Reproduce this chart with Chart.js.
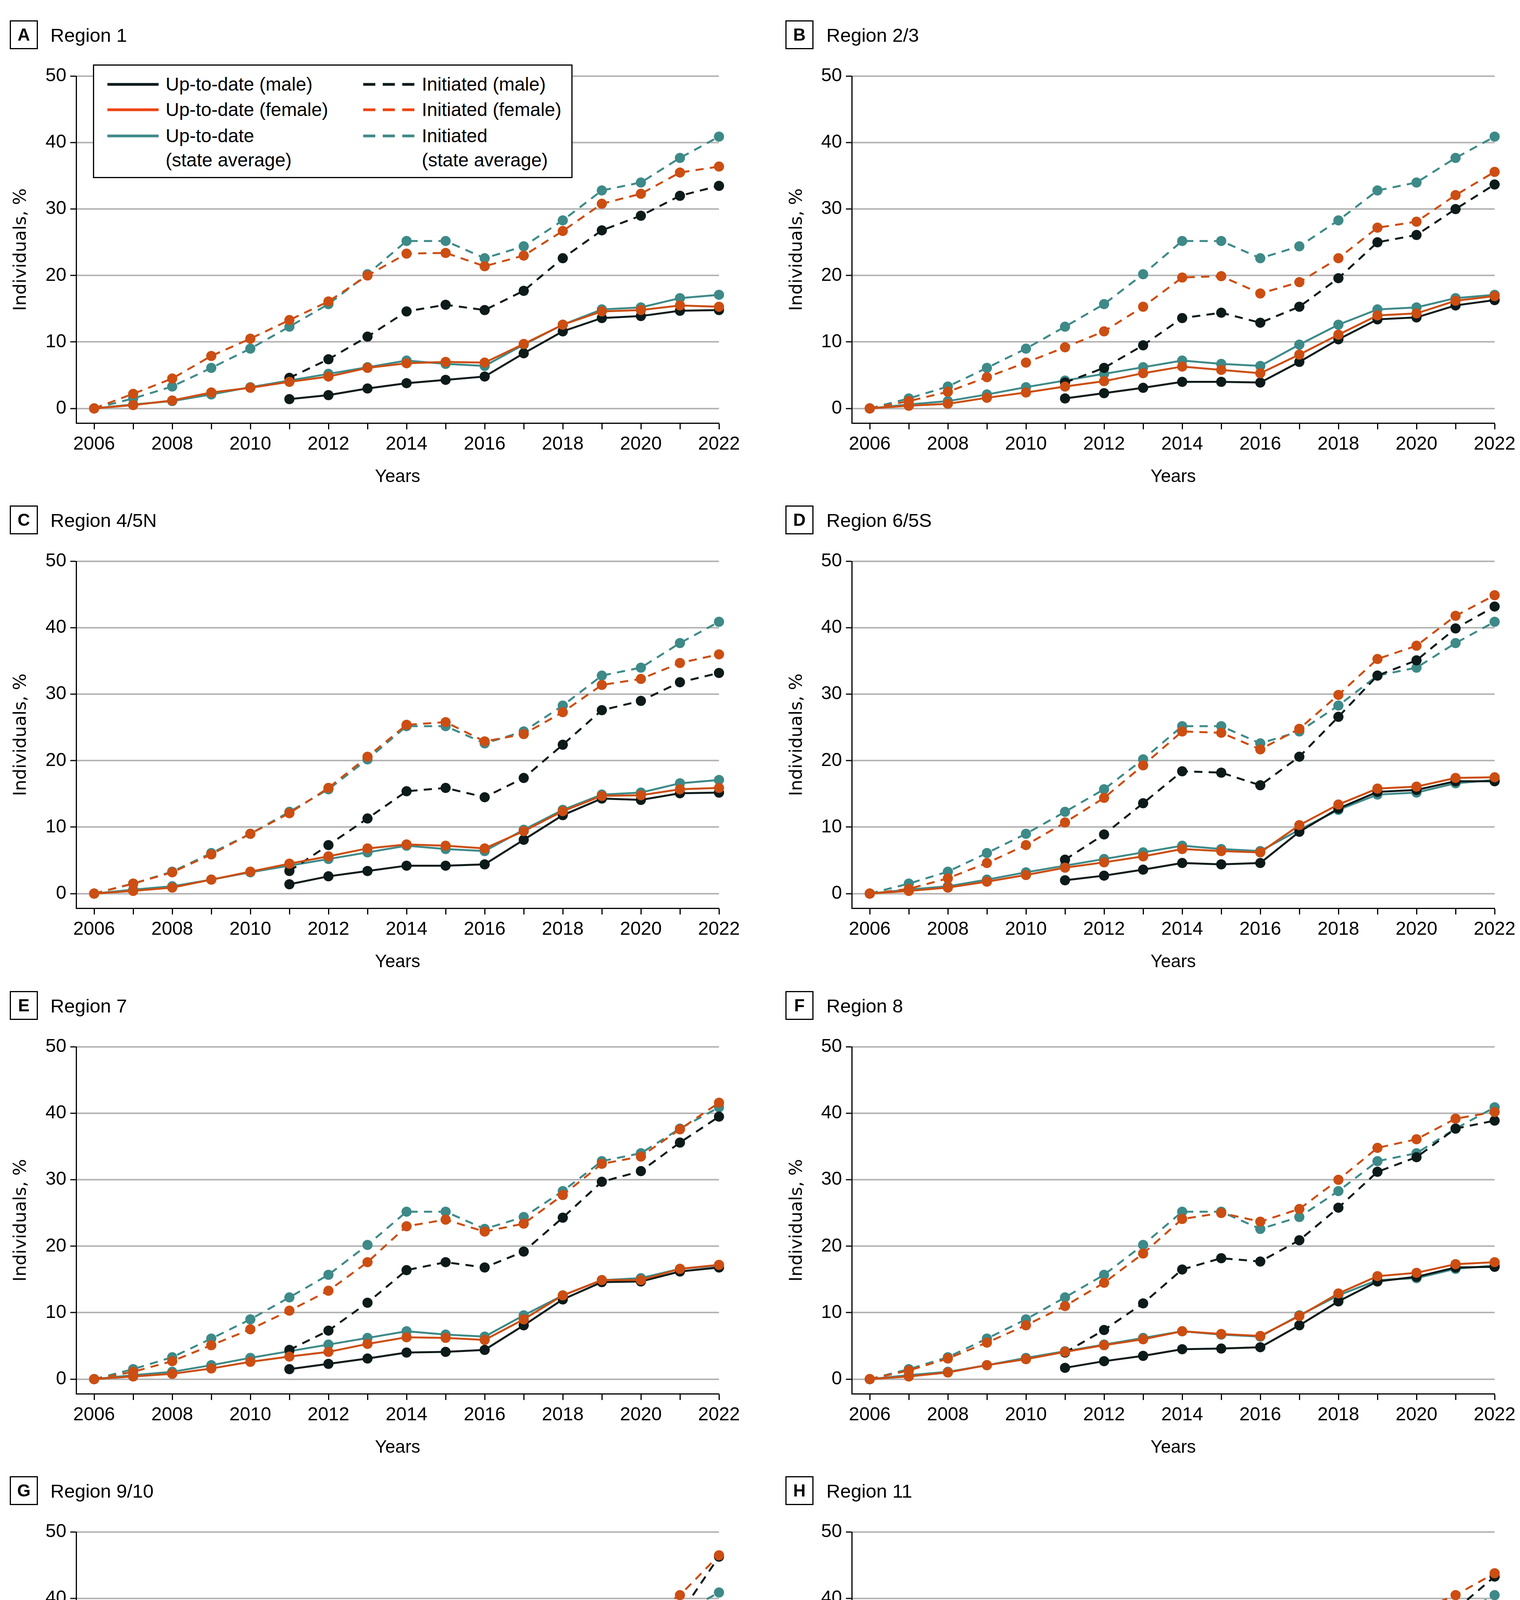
<!DOCTYPE html>
<html lang="en">
<head>
<meta charset="utf-8">
<script src="https://cdn.jsdelivr.net/npm/chart.js@4"></script>
<style>
  body { margin: 0; background: #fff; }
  #page { position: relative; width: 3892px; height: 5000px; background: #fff;
          font-family: "Liberation Sans", Arial, sans-serif; color: #000; }
  .panel { position: absolute; width: 1946px; height: 1244px; }
  .panel canvas { position: absolute; left: 0; top: 0; }
  .tag { position: absolute; top: 52px; width: 72px; height: 74px; border: 3px solid #000;
         box-sizing: border-box; font-weight: bold; font-size: 44px; line-height: 68px; text-align: center; }
  .region { position: absolute; top: 60px; font-size: 49px; line-height: 60px; white-space: nowrap; }
  .legend { position: absolute; left: 238px; top: 165px; width: 1228px; height: 291px;
            border: 3px solid #000; box-sizing: border-box; background: #fff; z-index: 2; }
  .legend svg { position: absolute; }
  .legend .txt { position: absolute; font-size: 48px; line-height: 62px; white-space: nowrap; }
</style>
</head>
<body>
<div id="page"></div>

<script>
  const years = [2006, 2007, 2008, 2009, 2010, 2011, 2012, 2013, 2014, 2015, 2016, 2017, 2018, 2019, 2020, 2021, 2022];
  const yTicks = [0, 10, 20, 30, 40, 50];
  const n5 = [null, null, null, null, null]; // male series start in 2011

  // state average (same line in panels A-G)
  const stateUpToDate = [0, 0.6, 1.1, 2.1, 3.2, 4.2, 5.2, 6.2, 7.2, 6.7, 6.4, 9.6, 12.6, 14.9, 15.2, 16.6, 17.1];
  const stateInitiated = [0, 1.5, 3.3, 6.1, 9.0, 12.3, 15.7, 20.2, 25.2, 25.2, 22.6, 24.4, 28.3, 32.8, 34.0, 37.7, 40.9];
  // panel H draws the state average a bit lower
  const stateUpToDateH = [-1.5, -1.0, -0.4, 0.6, 1.7, 2.9, 3.8, 4.9, 5.8, 5.4, 5.1, 8.2, 11.5, 13.8, 14.1, 15.7, 16.1];
  const stateInitiatedH = [-1.5, 0.0, 1.9, 4.8, 7.8, 11.3, 14.6, 19.3, 24.4, 24.4, 21.8, 23.6, 27.6, 32.2, 33.5, 37.3, 40.5];

  // Region 1
  const r1UtdMale = [...n5, 1.4, 2.0, 3.0, 3.8, 4.3, 4.8, 8.3, 11.6, 13.6, 13.9, 14.7, 14.8];
  const r1UtdFemale = [0, 0.5, 1.2, 2.4, 3.1, 4.0, 4.8, 6.1, 6.8, 7.0, 6.9, 9.7, 12.6, 14.6, 14.8, 15.5, 15.3];
  const r1InitMale = [...n5, 4.6, 7.4, 10.8, 14.6, 15.6, 14.8, 17.7, 22.6, 26.8, 29.0, 32.0, 33.5];
  const r1InitFemale = [0, 2.2, 4.5, 7.9, 10.5, 13.3, 16.1, 20.0, 23.3, 23.4, 21.4, 23.0, 26.7, 30.8, 32.3, 35.5, 36.4];

  // Region 2/3
  const r2UtdMale = [...n5, 1.5, 2.3, 3.1, 4.0, 4.0, 3.9, 7.0, 10.4, 13.4, 13.7, 15.5, 16.3];
  const r2UtdFemale = [0, 0.4, 0.7, 1.6, 2.4, 3.3, 4.1, 5.3, 6.3, 5.8, 5.3, 8.1, 11.1, 14.0, 14.3, 16.2, 16.9];
  const r2InitMale = [...n5, 3.9, 6.1, 9.5, 13.6, 14.4, 12.9, 15.3, 19.6, 25.0, 26.1, 30.0, 33.7];
  const r2InitFemale = [0, 1.1, 2.5, 4.7, 6.9, 9.2, 11.6, 15.3, 19.7, 19.9, 17.3, 19.0, 22.6, 27.2, 28.1, 32.1, 35.6];

  // Region 4/5N
  const r4UtdMale = [...n5, 1.4, 2.6, 3.4, 4.2, 4.2, 4.4, 8.1, 11.8, 14.3, 14.1, 15.1, 15.2];
  const r4UtdFemale = [0, 0.4, 0.9, 2.1, 3.3, 4.5, 5.6, 6.8, 7.4, 7.2, 6.8, 9.4, 12.4, 14.7, 14.8, 15.7, 15.9];
  const r4InitMale = [...n5, 3.4, 7.3, 11.3, 15.4, 15.9, 14.5, 17.4, 22.4, 27.6, 29.0, 31.8, 33.2];
  const r4InitFemale = [0, 1.5, 3.2, 5.9, 9.0, 12.1, 15.9, 20.6, 25.4, 25.8, 22.9, 24.0, 27.3, 31.4, 32.3, 34.7, 36.0];

  // Region 6/5S
  const r6UtdMale = [...n5, 2.0, 2.7, 3.6, 4.6, 4.4, 4.6, 9.3, 12.8, 15.3, 15.6, 16.9, 16.9];
  const r6UtdFemale = [0, 0.4, 0.9, 1.8, 2.8, 3.9, 4.7, 5.6, 6.7, 6.4, 6.2, 10.3, 13.4, 15.8, 16.1, 17.4, 17.5];
  const r6InitMale = [...n5, 5.1, 8.9, 13.6, 18.4, 18.2, 16.3, 20.6, 26.6, 32.8, 35.1, 39.9, 43.2];
  const r6InitFemale = [0, 0.7, 2.3, 4.6, 7.3, 10.7, 14.4, 19.3, 24.4, 24.2, 21.7, 24.8, 29.9, 35.3, 37.3, 41.8, 44.9];

  // Region 7
  const r7UtdMale = [...n5, 1.5, 2.3, 3.1, 4.0, 4.1, 4.4, 8.1, 12.0, 14.6, 14.7, 16.2, 16.8];
  const r7UtdFemale = [0, 0.4, 0.8, 1.6, 2.6, 3.4, 4.1, 5.3, 6.3, 6.2, 5.9, 9.0, 12.6, 14.9, 14.9, 16.6, 17.2];
  const r7InitMale = [...n5, 4.4, 7.3, 11.5, 16.4, 17.6, 16.8, 19.2, 24.3, 29.7, 31.3, 35.6, 39.5];
  const r7InitFemale = [0, 1.1, 2.7, 5.1, 7.5, 10.3, 13.3, 17.6, 23.0, 24.0, 22.2, 23.4, 27.7, 32.4, 33.5, 37.6, 41.6];

  // Region 8
  const r8UtdMale = [...n5, 1.7, 2.7, 3.5, 4.5, 4.6, 4.8, 8.1, 11.7, 14.7, 15.4, 16.8, 16.9];
  const r8UtdFemale = [0, 0.4, 1.0, 2.1, 3.0, 4.1, 5.1, 6.0, 7.2, 6.8, 6.5, 9.5, 12.9, 15.5, 16.0, 17.3, 17.6];
  const r8InitMale = [...n5, 4.0, 7.4, 11.4, 16.5, 18.2, 17.7, 20.9, 25.8, 31.2, 33.4, 37.7, 38.9];
  const r8InitFemale = [0, 1.3, 3.1, 5.5, 8.1, 11.0, 14.5, 18.9, 24.1, 25.0, 23.7, 25.6, 30.0, 34.8, 36.1, 39.2, 40.2];

  // Region 9/10
  const r9UtdMale = [...n5, 4.4, 5.9, 7.1, 8.1, 6.8, 6.4, 9.1, 11.8, 14.1, 14.2, 15.6, 16.6];
  const r9UtdFemale = [0, 1.4, 2.2, 3.6, 5.3, 6.6, 8.1, 9.4, 10.0, 9.0, 8.1, 10.4, 13.2, 15.2, 15.5, 16.5, 17.5];
  const r9InitMale = [...n5, 12.0, 18.2, 24.7, 31.0, 27.0, 21.8, 23.2, 26.8, 31.3, 32.9, 37.6, 46.3];
  const r9InitFemale = [0, 3.6, 7.1, 12.3, 17.0, 21.5, 25.9, 31.6, 37.5, 34.8, 28.8, 28.8, 31.6, 35.3, 36.9, 40.5, 46.5];

  // Region 11
  const r11UtdMale = [...n5, 2.7, 3.4, 4.2, 5.0, 4.5, 5.0, 8.5, 10.8, 12.5, 12.7, 14.3, 15.5];
  const r11UtdFemale = [-1.5, -0.2, 0.7, 2.4, 4.1, 5.2, 6.2, 7.0, 7.6, 6.9, 7.3, 10.3, 12.0, 13.7, 13.4, 14.6, 15.7];
  const r11InitMale = [...n5, 11.0, 16.4, 22.0, 27.1, 25.8, 23.7, 25.9, 29.3, 33.3, 34.1, 38.3, 43.3];
  const r11InitFemale = [-1.5, 1.7, 5.0, 9.7, 14.6, 19.5, 24.2, 29.4, 34.3, 33.1, 31.3, 32.7, 35.1, 38.1, 38.1, 40.5, 43.8];

  const panels = [
    { tag: 'A', name: 'Region 1', utdM: r1UtdMale, utdF: r1UtdFemale, initM: r1InitMale, initF: r1InitFemale, utdS: stateUpToDate, initS: stateInitiated },
    { tag: 'B', name: 'Region 2/3', utdM: r2UtdMale, utdF: r2UtdFemale, initM: r2InitMale, initF: r2InitFemale, utdS: stateUpToDate, initS: stateInitiated },
    { tag: 'C', name: 'Region 4/5N', utdM: r4UtdMale, utdF: r4UtdFemale, initM: r4InitMale, initF: r4InitFemale, utdS: stateUpToDate, initS: stateInitiated },
    { tag: 'D', name: 'Region 6/5S', utdM: r6UtdMale, utdF: r6UtdFemale, initM: r6InitMale, initF: r6InitFemale, utdS: stateUpToDate, initS: stateInitiated },
    { tag: 'E', name: 'Region 7', utdM: r7UtdMale, utdF: r7UtdFemale, initM: r7InitMale, initF: r7InitFemale, utdS: stateUpToDate, initS: stateInitiated },
    { tag: 'F', name: 'Region 8', utdM: r8UtdMale, utdF: r8UtdFemale, initM: r8InitMale, initF: r8InitFemale, utdS: stateUpToDate, initS: stateInitiated },
    { tag: 'G', name: 'Region 9/10', utdM: r9UtdMale, utdF: r9UtdFemale, initM: r9InitMale, initF: r9InitFemale, utdS: stateUpToDate, initS: stateInitiated },
    { tag: 'H', name: 'Region 11', utdM: r11UtdMale, utdF: r11UtdFemale, initM: r11InitMale, initF: r11InitFemale, utdS: stateUpToDateH, initS: stateInitiatedH }
  ];

  const BLACK = '#0c1a1a';
  const ORANGE = '#cc4e12';
  const TEAL = '#3d8a88';
  const FONT = '"Liberation Sans", Arial, sans-serif';
  const rowTops = [0, 1242, 2485, 3727];

  function series(values, color, dashed) {
    return {
      data: years.map((x, i) => ({ x: x, y: values[i] })),
      borderColor: color,
      backgroundColor: color,
      borderWidth: 5,
      borderDash: dashed ? [21, 16] : [],
      pointRadius: 13,
      pointHoverRadius: 13,
      pointBorderWidth: 0,
      pointBackgroundColor: color,
      tension: 0,
      spanGaps: false,
      clip: false
    };
  }

  function makeChart(canvas, p, col) {
    const axisW = col === 0 ? 195 : 235;
    const padRight = col === 0 ? 105 : 65;
    const titlePad = col === 0 ? 32 : 73;

    return new Chart(canvas, {
      type: 'line',
      data: {
        // first dataset is drawn on top
        datasets: [
          series(p.initF, ORANGE, true),
          series(p.utdF, ORANGE, false),
          series(p.initM, BLACK, true),
          series(p.utdM, BLACK, false),
          series(p.initS, TEAL, true),
          series(p.utdS, TEAL, false)
        ]
      },
      options: {
        responsive: false,
        animation: false,
        devicePixelRatio: 1,
        layout: { padding: { top: 195, right: padRight, left: 0, bottom: 0 } },
        plugins: { legend: { display: false }, tooltip: { enabled: false } },
        scales: {
          x: {
            type: 'linear',
            min: 2005.54,
            max: 2022,
            afterBuildTicks: s => { s.ticks = years.map(v => ({ value: v })); },
            afterFit: s => { s.height = 161; },
            ticks: {
              autoSkip: false,
              maxRotation: 0,
              padding: 10,
              color: '#000',
              font: { family: FONT, size: 48 },
              callback: v => (v % 2 === 0 ? String(v) : '')
            },
            grid: { drawOnChartArea: false, drawTicks: true, tickLength: 16, tickColor: '#000', tickWidth: 3 },
            border: { color: '#000', width: 3 },
            title: {
              display: true, text: 'Years', color: '#000',
              font: { family: FONT, size: 46, lineHeight: 1 },
              padding: { top: 0, bottom: 0 }
            }
          },
          y: {
            min: -2.2,
            max: 50,
            afterBuildTicks: s => { s.ticks = yTicks.map(v => ({ value: v })); },
            afterFit: s => { s.width = axisW; },
            ticks: { padding: 10, color: '#000', font: { family: FONT, size: 48 } },
            grid: { color: '#b5b5b5', lineWidth: 4, drawTicks: true, tickLength: 15, tickColor: '#000', tickWidth: 3 },
            border: { color: '#000', width: 3 },
            title: {
              display: true, text: 'Individuals, %', color: '#000',
              font: { family: '"DejaVu Sans", Verdana, sans-serif', size: 45, lineHeight: 1 },
              padding: { top: titlePad, bottom: 0 }
            }
          }
        }
      }
    });
  }

  function lineSample(x, y, color, dashed) {
    const dash = dashed ? ' stroke-dasharray="31 19"' : '';
    return '<svg style="left:' + x + 'px;top:' + (y - 6) + 'px" width="131" height="12">' +
      '<line x1="0" y1="6" x2="131" y2="6" stroke="' + color + '" stroke-width="7"' + dash + '/></svg>';
  }

  function buildLegend() {
    const rows = [
      { y: 48, color: BLACK, a: 'Up-to-date (male)', b: 'Initiated (male)' },
      { y: 113, color: '#f0440e', a: 'Up-to-date (female)', b: 'Initiated (female)' },
      { y: 180, color: TEAL, a: 'Up-to-date<br>(state average)', b: 'Initiated<br>(state average)' }
    ];
    let html = '';
    rows.forEach(r => {
      html += lineSample(34, r.y, r.color, false);
      html += '<div class="txt" style="left:183px;top:' + (r.y - 31) + 'px">' + r.a + '</div>';
      html += lineSample(689, r.y, r.color, true);
      html += '<div class="txt" style="left:839px;top:' + (r.y - 31) + 'px">' + r.b + '</div>';
    });
    const div = document.createElement('div');
    div.className = 'legend';
    div.innerHTML = html;
    return div;
  }

  const page = document.getElementById('page');
  panels.forEach((p, i) => {
    const col = i % 2;
    const row = Math.floor(i / 2);
    const panel = document.createElement('div');
    panel.className = 'panel';
    panel.style.left = (col * 1946) + 'px';
    panel.style.top = rowTops[row] + 'px';

    const canvas = document.createElement('canvas');
    canvas.width = 1946;
    canvas.height = 1244;
    panel.appendChild(canvas);

    const tag = document.createElement('div');
    tag.className = 'tag';
    tag.style.left = (col === 0 ? 25 : 65) + 'px';
    tag.textContent = p.tag;
    panel.appendChild(tag);

    const region = document.createElement('div');
    region.className = 'region';
    region.style.left = (col === 0 ? 129 : 170) + 'px';
    region.textContent = p.name;
    panel.appendChild(region);

    if (i === 0) panel.appendChild(buildLegend());

    page.appendChild(panel);
    makeChart(canvas, p, col);
  });
</script>
</body>
</html>
